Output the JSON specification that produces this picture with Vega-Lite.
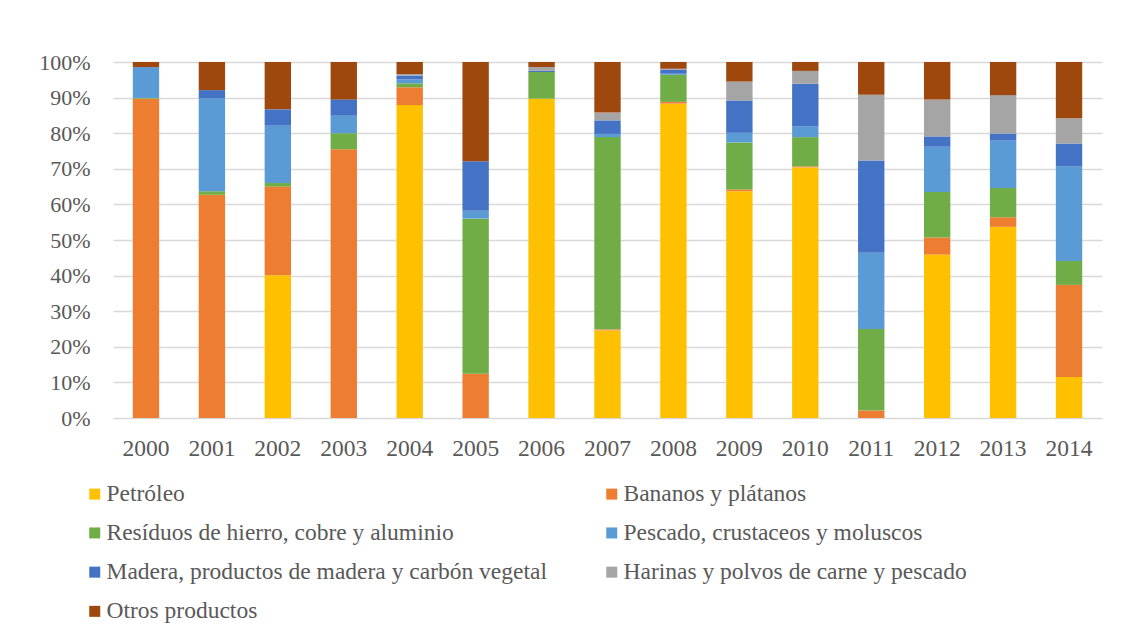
{
  "$schema": "https://vega.github.io/schema/vega-lite/v6.json",
  "autosize": "none",
  "width": 989,
  "height": 356,
  "padding": {"left": 113, "top": 62, "right": 30, "bottom": 224},
  "background": "white",
  "config": {
    "view": {"stroke": null},
    "font": "Liberation Serif",
    "axis": {"labelFont": "Liberation Serif", "labelFontSize": 22, "labelColor": "#595959", "title": null},
    "legend": {"labelFont": "Liberation Serif", "labelFontSize": 23.5, "labelColor": "#595959"}
  },
  "datasets": {
    "ranks": [
      {"product": "Petróleo", "rank": 1},
      {"product": "Bananos y plátanos", "rank": 2},
      {"product": "Resíduos de hierro, cobre y aluminio", "rank": 3},
      {"product": "Pescado, crustaceos y moluscos", "rank": 4},
      {"product": "Madera, productos de madera y carbón vegetal", "rank": 5},
      {"product": "Harinas y polvos de carne y pescado", "rank": 6},
      {"product": "Otros productos", "rank": 7}
    ]
  },
  "data": {
    "values": [
      {"year": "2000", "product": "Bananos y plátanos", "value": 89.7},
      {"year": "2000", "product": "Resíduos de hierro, cobre y aluminio", "value": 0.2},
      {"year": "2000", "product": "Pescado, crustaceos y moluscos", "value": 8.5},
      {"year": "2000", "product": "Madera, productos de madera y carbón vegetal", "value": 0.2},
      {"year": "2000", "product": "Otros productos", "value": 1.4},
      {"year": "2001", "product": "Bananos y plátanos", "value": 62.7},
      {"year": "2001", "product": "Resíduos de hierro, cobre y aluminio", "value": 1.0},
      {"year": "2001", "product": "Pescado, crustaceos y moluscos", "value": 26.1},
      {"year": "2001", "product": "Madera, productos de madera y carbón vegetal", "value": 2.3},
      {"year": "2001", "product": "Otros productos", "value": 7.9},
      {"year": "2002", "product": "Petróleo", "value": 40.1},
      {"year": "2002", "product": "Bananos y plátanos", "value": 24.9},
      {"year": "2002", "product": "Resíduos de hierro, cobre y aluminio", "value": 1.0},
      {"year": "2002", "product": "Pescado, crustaceos y moluscos", "value": 16.1},
      {"year": "2002", "product": "Madera, productos de madera y carbón vegetal", "value": 4.6},
      {"year": "2002", "product": "Otros productos", "value": 13.3},
      {"year": "2003", "product": "Bananos y plátanos", "value": 75.5},
      {"year": "2003", "product": "Resíduos de hierro, cobre y aluminio", "value": 4.5},
      {"year": "2003", "product": "Pescado, crustaceos y moluscos", "value": 4.9},
      {"year": "2003", "product": "Madera, productos de madera y carbón vegetal", "value": 4.6},
      {"year": "2003", "product": "Otros productos", "value": 10.5},
      {"year": "2004", "product": "Petróleo", "value": 87.9},
      {"year": "2004", "product": "Bananos y plátanos", "value": 5.0},
      {"year": "2004", "product": "Resíduos de hierro, cobre y aluminio", "value": 1.1},
      {"year": "2004", "product": "Pescado, crustaceos y moluscos", "value": 1.1},
      {"year": "2004", "product": "Madera, productos de madera y carbón vegetal", "value": 1.1},
      {"year": "2004", "product": "Harinas y polvos de carne y pescado", "value": 0.4},
      {"year": "2004", "product": "Otros productos", "value": 3.4},
      {"year": "2005", "product": "Bananos y plátanos", "value": 12.4},
      {"year": "2005", "product": "Resíduos de hierro, cobre y aluminio", "value": 43.6},
      {"year": "2005", "product": "Pescado, crustaceos y moluscos", "value": 2.2},
      {"year": "2005", "product": "Madera, productos de madera y carbón vegetal", "value": 13.9},
      {"year": "2005", "product": "Otros productos", "value": 27.9},
      {"year": "2006", "product": "Petróleo", "value": 89.7},
      {"year": "2006", "product": "Resíduos de hierro, cobre y aluminio", "value": 7.5},
      {"year": "2006", "product": "Madera, productos de madera y carbón vegetal", "value": 0.3},
      {"year": "2006", "product": "Harinas y polvos de carne y pescado", "value": 1.1},
      {"year": "2006", "product": "Otros productos", "value": 1.4},
      {"year": "2007", "product": "Petróleo", "value": 24.6},
      {"year": "2007", "product": "Bananos y plátanos", "value": 0.3},
      {"year": "2007", "product": "Resíduos de hierro, cobre y aluminio", "value": 54.0},
      {"year": "2007", "product": "Pescado, crustaceos y moluscos", "value": 0.9},
      {"year": "2007", "product": "Madera, productos de madera y carbón vegetal", "value": 3.8},
      {"year": "2007", "product": "Harinas y polvos de carne y pescado", "value": 2.2},
      {"year": "2007", "product": "Otros productos", "value": 14.2},
      {"year": "2008", "product": "Petróleo", "value": 88.3},
      {"year": "2008", "product": "Bananos y plátanos", "value": 0.5},
      {"year": "2008", "product": "Resíduos de hierro, cobre y aluminio", "value": 7.6},
      {"year": "2008", "product": "Pescado, crustaceos y moluscos", "value": 0.3},
      {"year": "2008", "product": "Madera, productos de madera y carbón vegetal", "value": 1.2},
      {"year": "2008", "product": "Harinas y polvos de carne y pescado", "value": 0.2},
      {"year": "2008", "product": "Otros productos", "value": 1.9},
      {"year": "2009", "product": "Petróleo", "value": 63.7},
      {"year": "2009", "product": "Bananos y plátanos", "value": 0.5},
      {"year": "2009", "product": "Resíduos de hierro, cobre y aluminio", "value": 13.2},
      {"year": "2009", "product": "Pescado, crustaceos y moluscos", "value": 2.7},
      {"year": "2009", "product": "Madera, productos de madera y carbón vegetal", "value": 9.1},
      {"year": "2009", "product": "Harinas y polvos de carne y pescado", "value": 5.3},
      {"year": "2009", "product": "Otros productos", "value": 5.5},
      {"year": "2010", "product": "Petróleo", "value": 70.4},
      {"year": "2010", "product": "Bananos y plátanos", "value": 0.3},
      {"year": "2010", "product": "Resíduos de hierro, cobre y aluminio", "value": 8.2},
      {"year": "2010", "product": "Pescado, crustaceos y moluscos", "value": 3.0},
      {"year": "2010", "product": "Madera, productos de madera y carbón vegetal", "value": 12.0},
      {"year": "2010", "product": "Harinas y polvos de carne y pescado", "value": 3.6},
      {"year": "2010", "product": "Otros productos", "value": 2.5},
      {"year": "2011", "product": "Bananos y plátanos", "value": 2.1},
      {"year": "2011", "product": "Resíduos de hierro, cobre y aluminio", "value": 22.9},
      {"year": "2011", "product": "Pescado, crustaceos y moluscos", "value": 21.4},
      {"year": "2011", "product": "Madera, productos de madera y carbón vegetal", "value": 25.9},
      {"year": "2011", "product": "Harinas y polvos de carne y pescado", "value": 18.5},
      {"year": "2011", "product": "Otros productos", "value": 9.2},
      {"year": "2012", "product": "Petróleo", "value": 45.9},
      {"year": "2012", "product": "Bananos y plátanos", "value": 4.8},
      {"year": "2012", "product": "Resíduos de hierro, cobre y aluminio", "value": 12.8},
      {"year": "2012", "product": "Pescado, crustaceos y moluscos", "value": 12.7},
      {"year": "2012", "product": "Madera, productos de madera y carbón vegetal", "value": 2.9},
      {"year": "2012", "product": "Harinas y polvos de carne y pescado", "value": 10.4},
      {"year": "2012", "product": "Otros productos", "value": 10.5},
      {"year": "2013", "product": "Petróleo", "value": 53.7},
      {"year": "2013", "product": "Bananos y plátanos", "value": 2.7},
      {"year": "2013", "product": "Resíduos de hierro, cobre y aluminio", "value": 8.2},
      {"year": "2013", "product": "Pescado, crustaceos y moluscos", "value": 13.3},
      {"year": "2013", "product": "Madera, productos de madera y carbón vegetal", "value": 2.0},
      {"year": "2013", "product": "Harinas y polvos de carne y pescado", "value": 10.8},
      {"year": "2013", "product": "Otros productos", "value": 9.3},
      {"year": "2014", "product": "Petróleo", "value": 11.5},
      {"year": "2014", "product": "Bananos y plátanos", "value": 25.9},
      {"year": "2014", "product": "Resíduos de hierro, cobre y aluminio", "value": 6.7},
      {"year": "2014", "product": "Pescado, crustaceos y moluscos", "value": 26.6},
      {"year": "2014", "product": "Madera, productos de madera y carbón vegetal", "value": 6.4},
      {"year": "2014", "product": "Harinas y polvos de carne y pescado", "value": 7.1},
      {"year": "2014", "product": "Otros productos", "value": 15.8}
    ]
  },
  "transform": [
    {"lookup": "product", "from": {"data": {"name": "ranks"}, "key": "product", "fields": ["rank"]}}
  ],
  "mark": {"type": "bar"},
  "encoding": {
    "x": {
      "field": "year",
      "type": "ordinal",
      "scale": {"paddingInner": 0.6, "paddingOuter": 0.3},
      "axis": {"labelAngle": 0, "ticks": false, "domain": false, "grid": false, "labelPadding": 18, "labelFontSize": 23.5}
    },
    "y": {
      "field": "value",
      "type": "quantitative",
      "stack": "normalize",
      "scale": {"domain": [0, 1]},
      "axis": {
        "format": ".0%",
        "values": [0, 0.1, 0.2, 0.3, 0.4, 0.5, 0.6, 0.7, 0.8, 0.9, 1],
        "ticks": false,
        "domain": false,
        "grid": true,
        "gridColor": "#D9D9D9",
        "gridWidth": 1.3,
        "labelPadding": 23
      }
    },
    "order": {"field": "rank", "type": "quantitative", "sort": "ascending"},
    "color": {
      "field": "product",
      "type": "nominal",
      "scale": {
        "domain": ["Petróleo", "Resíduos de hierro, cobre y aluminio", "Madera, productos de madera y carbón vegetal", "Otros productos", "Bananos y plátanos", "Pescado, crustaceos y moluscos", "Harinas y polvos de carne y pescado"],
        "range": ["#FFC000", "#70AD47", "#4472C4", "#9E480E", "#ED7D31", "#5B9BD5", "#A5A5A5"]
      },
      "legend": {
        "title": null,
        "orient": "none",
        "legendX": -30,
        "legendY": 420,
        "columns": 2,
        "columnPadding": 53,
        "rowPadding": 14.2,
        "padding": 0,
        "symbolType": "square",
        "symbolSize": 121,
        "symbolStrokeWidth": 0,
        "labelOffset": 0,
        "labelLimit": 700
      }
    }
  }
}
